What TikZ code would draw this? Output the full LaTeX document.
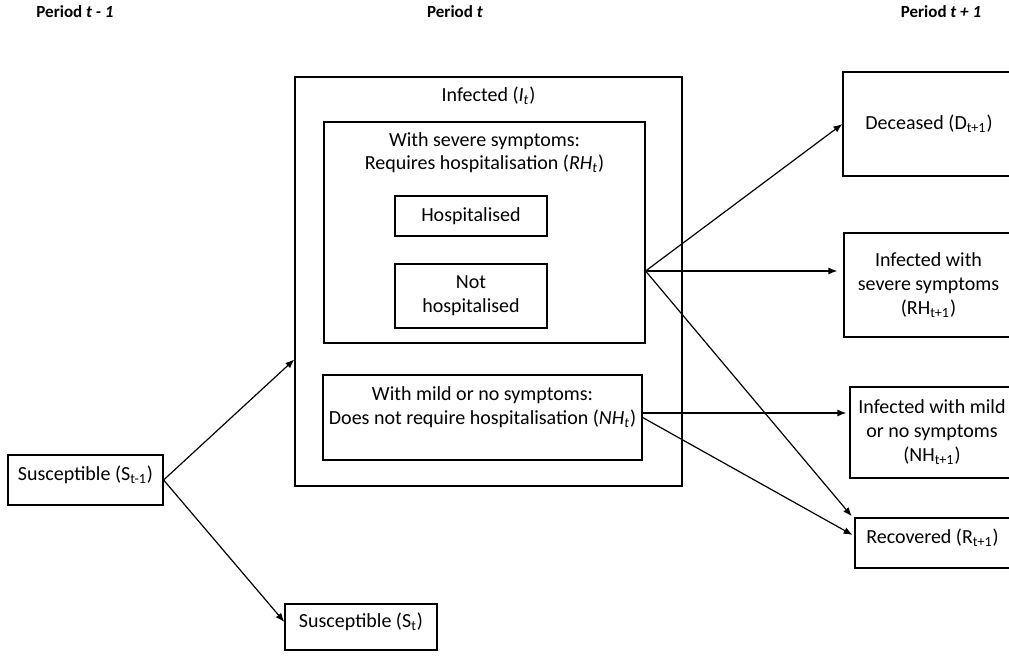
\documentclass[tikz,border=0pt]{standalone}
\usepackage{fontspec}
\setmainfont{Carlito}
\usetikzlibrary{arrows.meta, calc}
\begin{document}
\begin{tikzpicture}[x=0.5pt,y=-0.5pt]
\tikzset{box/.style={draw,line width=0.6pt,align=center,inner sep=2pt,font=\fontsize{10}{12}\selectfont},
         raised/.style={text depth=7pt},
         lbl/.style={align=center,inner sep=0pt,font=\fontsize{10}{11.5}\selectfont},
         flow/.style={line width=0.6pt,-{Latex[length=4.5pt,width=3.5pt]}},
         period/.style={font=\fontsize{8.5}{10}\selectfont\bfseries}}
\useasboundingbox (0,0) rectangle (1009,656);
\clip (0,0) rectangle (1009,656);
% Period headers
\node[period] (pprev) at (75,12) {Period \textit{t - 1}};
\node[period] (pnow) at (455,12) {Period \textit{t}};
\node[period] (pnext) at (941,12) {Period \textit{t + 1}};
% Period t-1 and susceptible at t
\node[box,raised,minimum width=77.5pt,minimum height=25pt] (St1) at (85.5,480) {Susceptible (S\textsubscript{t-1})};
\node[box,raised,minimum width=76pt,minimum height=23pt] (St) at (361,627) {Susceptible (S\textsubscript{t})};
% Infected container
\node[box,minimum width=193.5pt,minimum height=204.5pt] (Inf) at (488.5,281.5) {};
\node[lbl] (infLbl) at (488.5,96) {Infected (\textit{I\textsubscript{t}})};
% Severe symptoms
\node[box,minimum width=160.5pt,minimum height=110.5pt] (Sev) at (484.5,232.5) {};
\node[lbl] (sevLbl) at (484.5,153) {With severe symptoms:\\Requires hospitalisation (\textit{RH\textsubscript{t}})};
\node[box,minimum width=76pt,minimum height=20pt] (Hosp) at (471,216) {Hospitalised};
\node[box,minimum width=76pt,minimum height=32pt] (NotH) at (471,296) {Not\\hospitalised};
% Mild or no symptoms
\node[box,minimum width=159.5pt,minimum height=42.5pt] (Mild) at (482.5,417.5) {With mild or no symptoms:\\Does not require hospitalisation (\textit{NH\textsubscript{t}})\\\mbox{}};
% Period t+1
\node[box,minimum width=86pt,minimum height=52pt] (Dec) at (929,124) {Deceased (D\textsubscript{t+1})};
\node[box,minimum width=84.5pt,minimum height=52pt] (RHn) at (928.5,285) {Infected with\\severe symptoms\\(RH\textsubscript{t+1})};
\node[box,minimum width=82pt,minimum height=45.5pt] (NHn) at (932,432.5) {Infected with mild\\or no symptoms\\(NH\textsubscript{t+1})};
\node[box,raised,minimum width=77.5pt,minimum height=25pt] (Rec) at (932.5,543) {Recovered (R\textsubscript{t+1})};
% Exit points
\coordinate (infIn) at ($(Inf.north west)!0.69!(Inf.south west)$);
\coordinate (sevOut) at ([yshift=-19.25pt]Sev.east);
\coordinate (mildOut) at ([yshift=2.25pt]Mild.east);
% Flows
\draw[flow] (St1.east) -- (infIn);
\draw[flow] (St1.east) -- ([yshift=2.5pt]St.west);
\draw[flow] (sevOut) -- (Dec.west);
\draw[flow,shorten >=3pt] (sevOut) -- (sevOut -| RHn.west);
\draw[flow,shorten >=2pt] (sevOut) -- ([yshift=-1pt]Rec.north west);
\draw[flow,shorten >=1.5pt] (mildOut) -- (mildOut -| NHn.west);
\draw[flow,shorten >=1pt] (Mild.east) -- ([yshift=3.5pt]Rec.west);
\end{tikzpicture}
\end{document}
